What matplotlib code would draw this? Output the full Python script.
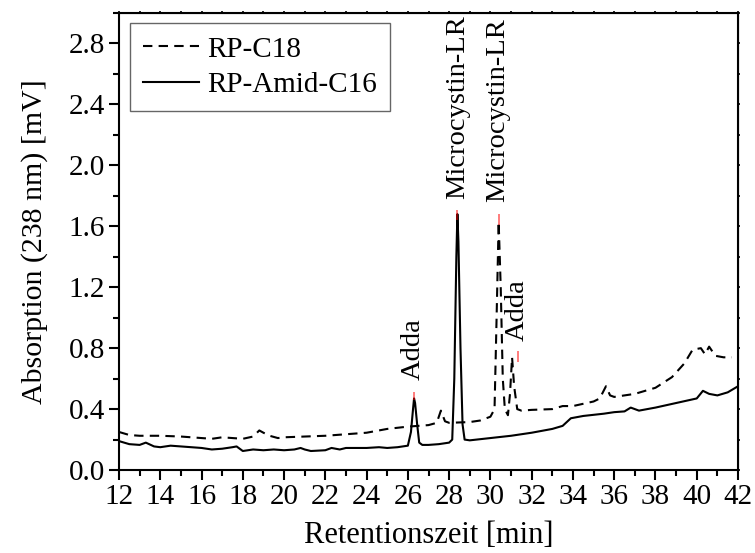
import matplotlib
matplotlib.use("Agg")
import matplotlib.pyplot as plt
from matplotlib.ticker import MultipleLocator, FormatStrFormatter

plt.rcParams['font.family'] = ['Liberation Serif', 'DejaVu Serif']
plt.rcParams['mathtext.fontset'] = 'stix'

# RP-C18 chromatogram (dashed)
c18_time = [12.0, 12.5, 13.0, 14.0, 15.0, 16.0, 16.5, 17.0, 17.5, 18.0, 18.5, 18.8,
            19.0, 19.3, 19.7, 20.0, 21.0, 22.0, 23.0, 24.0, 24.6, 25.0, 26.0, 27.0,
            27.4, 27.6, 27.8, 28.0, 29.0, 29.5, 30.0, 30.2, 30.3, 30.4, 30.5, 30.6,
            30.7, 30.85, 30.95, 31.05, 31.15, 31.3, 31.5, 32.0, 33.0, 33.5, 34.0,
            35.0, 35.3, 35.6, 35.8, 36.0, 37.0, 38.0, 38.8, 39.4, 39.8, 40.2, 40.4,
            40.6, 40.9, 41.3, 41.7]
c18_signal = [0.25, 0.23, 0.225, 0.225, 0.22, 0.21, 0.205, 0.215, 0.21, 0.205, 0.22, 0.26,
              0.245, 0.225, 0.21, 0.215, 0.22, 0.225, 0.235, 0.245, 0.26, 0.27, 0.285, 0.295,
              0.31, 0.39, 0.32, 0.31, 0.315, 0.325, 0.35, 0.4, 1.0, 1.63, 1.2, 0.6,
              0.4, 0.36, 0.5, 0.74, 0.55, 0.4, 0.39, 0.395, 0.4, 0.42, 0.42,
              0.45, 0.47, 0.55, 0.49, 0.48, 0.5, 0.54, 0.61, 0.70, 0.79, 0.80, 0.76,
              0.81, 0.75, 0.74, 0.74]

# RP-Amid-C16 chromatogram (solid)
amid_time = [12.0, 12.5, 13.0, 13.3, 13.7, 14.0, 14.5, 15.0, 15.5, 16.0, 16.5, 17.0,
             17.5, 17.7, 18.0, 18.5, 19.0, 19.5, 20.0, 20.5, 20.8, 21.0, 21.3, 22.0,
             22.3, 22.7, 23.0, 24.0, 24.6, 25.0, 25.5, 26.0, 26.15, 26.25, 26.3,
             26.35, 26.45, 26.55, 26.7, 27.0, 27.5, 28.0, 28.15, 28.25, 28.35, 28.4,
             28.45, 28.55, 28.65, 28.75, 29.0, 30.0, 31.0, 32.0, 33.0, 33.5, 33.9,
             34.5, 35.5, 36.0, 36.5, 36.8, 37.2, 38.0, 39.0, 40.0, 40.3, 40.6, 41.0,
             41.5, 42.0]
amid_signal = [0.19, 0.17, 0.165, 0.18, 0.155, 0.15, 0.16, 0.155, 0.15, 0.145, 0.135, 0.14,
               0.15, 0.155, 0.125, 0.135, 0.13, 0.135, 0.13, 0.135, 0.145, 0.135, 0.125, 0.13,
               0.145, 0.135, 0.145, 0.145, 0.15, 0.145, 0.15, 0.16, 0.25, 0.40, 0.47,
               0.44, 0.30, 0.18, 0.165, 0.165, 0.17, 0.18, 0.20, 0.60, 1.40, 1.68,
               1.50, 0.80, 0.30, 0.20, 0.195, 0.21, 0.225, 0.245, 0.27, 0.29, 0.34,
               0.355, 0.37, 0.38, 0.385, 0.41, 0.39, 0.41, 0.44, 0.47, 0.52, 0.50, 0.49,
               0.51, 0.55]

# Peak-top markers (time, lower, upper)
mark_time = [26.3, 28.4, 30.4, 31.35]
mark_low = [0.46, 1.64, 1.61, 0.71]
mark_high = [0.51, 1.71, 1.68, 0.78]

# Peak labels
label_text = ["Adda", "Microcystin-LR", "Microcystin-LR", "Adda"]
label_time = [26.25, 28.4, 30.37, 31.3]
label_base = [0.59, 1.78, 1.76, 0.85]

fig = plt.figure(figsize=(7.55, 5.53), dpi=100)
ax = fig.add_axes([0.1576, 0.150, 0.8199, 0.8265])

ax.plot(c18_time, c18_signal, color='black', lw=1.5, ls=(0, (4.5, 3)), label='RP-C18')
ax.plot(amid_time, amid_signal, color='black', lw=1.5, ls='-', label='RP-Amid-C16')

ax.vlines(mark_time, mark_low, mark_high, colors='red', lw=1.2, alpha=0.6)

for txt, tx, ty in zip(label_text, label_time, label_base):
    ax.text(tx, ty, txt, rotation=90, ha='center', va='bottom', fontsize=20.5)

ax.set_xlim(12, 42)
ax.set_ylim(0, 3.0)
ax.xaxis.set_major_locator(MultipleLocator(2))
ax.xaxis.set_minor_locator(MultipleLocator(1))
ax.yaxis.set_major_locator(MultipleLocator(0.4))
ax.yaxis.set_minor_locator(MultipleLocator(0.2))
ax.yaxis.set_major_formatter(FormatStrFormatter('%.1f'))
ax.tick_params(which='major', direction='out', length=7, width=1.5, labelsize=21, pad=3)
ax.tick_params(which='minor', direction='out', length=4, width=1.5)
for s in ax.spines.values():
    s.set_linewidth(1.5)

# small ticks along top and right frame
topx = ax.secondary_xaxis('top')
topx.xaxis.set_major_locator(MultipleLocator(1))
topx.tick_params(direction='out', length=1.5, width=1.2, labeltop=False)
rightx = ax.secondary_yaxis('right')
rightx.yaxis.set_major_locator(MultipleLocator(0.2))
rightx.tick_params(direction='out', length=1.5, width=1.2, labelright=False)

ax.set_xlabel('Retentionszeit [min]', fontsize=22, labelpad=8)
ax.set_ylabel('Absorption (238 nm) [mV]', fontsize=21.5, labelpad=15)

leg = ax.legend(loc='upper left', bbox_to_anchor=(0.018, 0.978), borderaxespad=0,
                fontsize=21, frameon=True, fancybox=False, edgecolor='#404040',
                handlelength=1.9, handletextpad=0.3, borderpad=0.45, labelspacing=0.3)
leg.get_frame().set_linewidth(1.0)

fig.savefig('out.png', dpi=100)
